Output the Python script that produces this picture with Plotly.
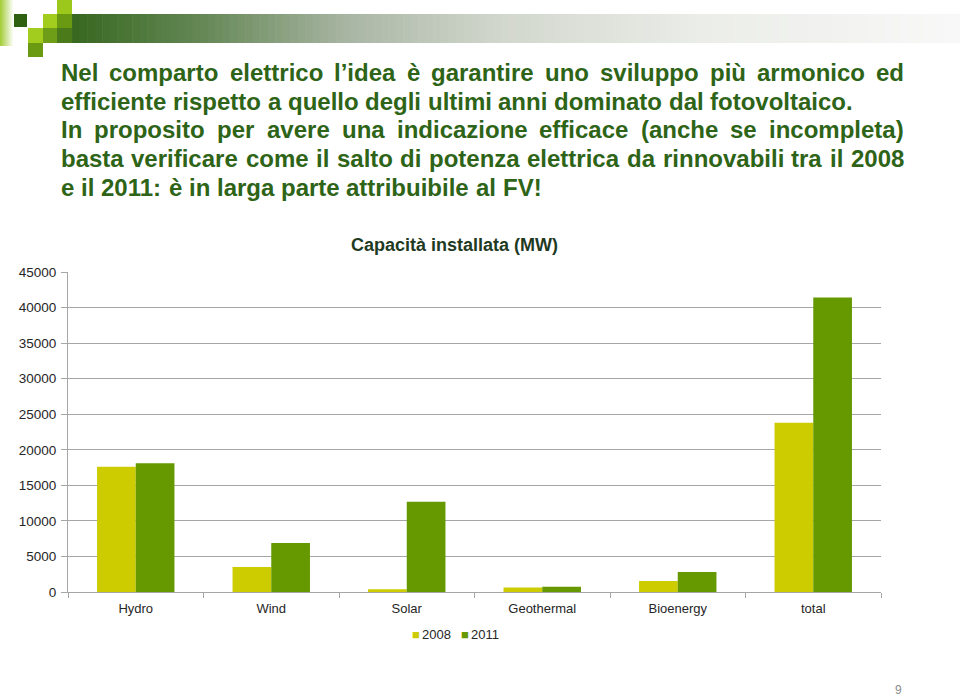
import plotly.graph_objects as go

# ---------------- data ----------------
categories = ["Hydro", "Wind", "Solar", "Geothermal", "Bioenergy", "total"]
series_names = ["2008", "2011"]
cap_2008 = [17600, 3500, 400, 650, 1550, 23800]
cap_2011 = [18100, 6900, 12700, 750, 2800, 41400]
y_ticks = [0, 5000, 10000, 15000, 20000, 25000, 30000, 35000, 40000, 45000]
y_tick_labels = ["0", "5000", "10000", "15000", "20000", "25000", "30000", "35000", "40000", "45000"]

chart_title = "Capacità installata (MW)"
body_lines = [
    ("Nel comparto elettrico l’idea è garantire uno sviluppo più armonico ed", True),
    ("efficiente rispetto a quello degli ultimi anni dominato dal fotovoltaico.", False),
    ("In proposito per avere una indicazione efficace (anche se incompleta)", True),
    ("basta verificare come il salto di potenza elettrica da rinnovabili tra il 2008", True),
    ("e il 2011: è in larga parte attribuibile al FV!", False),
]
page_number = "9"

# ---------------- styling ----------------
W, H = 960, 696
C2008 = "#CCCC00"
C2011 = "#669900"
GRID = "#A6A6A6"
TXT = "#262626"
BODY_COL = "#2E6417"

def px(x):
    return x / W

def py(y):
    return 1 - y / H

# Arial/Helvetica bold advance widths (1/1000 em)
BW = {' ': 278, '!': 333, '(': 333, ')': 333, ',': 278, '.': 278, ':': 333, '’': 278,
      '0': 556, '1': 556, '2': 556, '3': 556, '4': 556, '5': 556, '6': 556, '7': 556, '8': 556, '9': 556,
      'A': 722, 'B': 722, 'C': 722, 'D': 722, 'E': 667, 'F': 611, 'G': 778, 'H': 722, 'I': 278,
      'J': 556, 'K': 722, 'L': 611, 'M': 833, 'N': 722, 'O': 778, 'P': 667, 'Q': 778, 'R': 722,
      'S': 667, 'T': 611, 'U': 722, 'V': 667, 'W': 944, 'X': 667, 'Y': 667, 'Z': 611,
      'a': 556, 'b': 611, 'c': 556, 'd': 611, 'e': 556, 'f': 333, 'g': 611, 'h': 611, 'i': 278,
      'j': 278, 'k': 556, 'l': 278, 'm': 889, 'n': 611, 'o': 611, 'p': 611, 'q': 611, 'r': 389,
      's': 556, 't': 333, 'u': 611, 'v': 556, 'w': 778, 'x': 556, 'y': 556, 'z': 500,
      'è': 556, 'à': 556, 'ù': 611, 'é': 556}

def tw(s, size):
    return sum(BW.get(c, 556) for c in s) * size / 1000.0

fig = go.Figure()
fig.add_trace(go.Bar(x=categories, y=cap_2008, name=series_names[0], marker=dict(color=C2008, line=dict(width=0))))
fig.add_trace(go.Bar(x=categories, y=cap_2011, name=series_names[1], marker=dict(color=C2011, line=dict(width=0))))

shapes = []
# header gradient bar
stops = [(57, (50, 100, 25)), (200, (100, 135, 85)), (350, (170, 182, 165)),
         (500, (210, 215, 205)), (700, (235, 237, 232)), (960, (248, 248, 248))]

def grad_color(x):
    for (x0, c0), (x1, c1) in zip(stops[:-1], stops[1:]):
        if x0 <= x <= x1:
            t = (x - x0) / (x1 - x0)
            return "rgb(%d,%d,%d)" % tuple(round(a + (b - a) * t) for a, b in zip(c0, c1))
    return "rgb(248,248,248)"

n = 120
x0 = 57
step = (960 - x0) / n
for i in range(n):
    xa = x0 + i * step
    shapes.append(dict(type="rect", xref="paper", yref="paper", x0=px(xa), x1=px(xa + step + 0.6),
                       y0=py(43), y1=py(14), fillcolor=grad_color(xa + step / 2), line=dict(width=0), layer="below"))
# left lime fading strip
for i in range(13):
    t = i / 13
    c = tuple(round(a + (255 - a) * t) for a in (165, 205, 60))
    shapes.append(dict(type="rect", xref="paper", yref="paper", x0=px(i), x1=px(i + 1.1),
                       y0=py(46), y1=py(0), fillcolor="rgb(%d,%d,%d)" % c, line=dict(width=0), layer="below"))
# squares
squares = [
    (14, 14, 27, 27, "#2F5F10"),
    (43, 14, 57, 28, "#A2CC1E"),
    (57, 0, 72, 14, "#9CC81C"),
    (57, 14, 72, 28, "#6A9A12"),
    (28, 28, 43, 43, "#A2CC1E"),
    (43, 28, 57, 43, "#6E9E18"),
    (57, 28, 72, 43, "#4A7A1A"),
    (28, 43, 43, 57, "#6A9A12"),
]
for (a, b, c, d, col) in squares:
    shapes.append(dict(type="rect", xref="paper", yref="paper", x0=px(a), x1=px(c),
                       y0=py(d), y1=py(b), fillcolor=col, line=dict(width=0), layer="below"))

annotations = []
# body text (justified lines)
FS = 24
left, right = 60, 903
for i, (line, just) in enumerate(body_lines):
    yc = 72.5 + i * 28.7
    words = line.split()
    widths = [tw(w, FS) for w in words]
    if just and len(words) > 1:
        gap = (right - left - sum(widths)) / (len(words) - 1)
    else:
        gap = tw(" ", FS)
    x = left
    for w, wd in zip(words, widths):
        annotations.append(dict(x=px(x), y=py(yc), xref="paper", yref="paper", text=w, showarrow=False,
                                xanchor="left", yanchor="middle", borderpad=0,
                                font=dict(family="Liberation Sans, Arial", size=FS, color=BODY_COL, weight="bold")))
        x += wd + gap

# chart title
annotations.append(dict(x=px(454), y=py(245), xref="paper", yref="paper", text=chart_title, showarrow=False,
                        xanchor="center", yanchor="middle",
                        font=dict(family="Liberation Sans, Arial", size=18, color="#1F3A1F", weight="bold")))
# legend
leg_items = [(412, C2008, series_names[0]), (461, C2011, series_names[1])]
for xl, col, name in leg_items:
    annotations.append(dict(x=px(xl - 1), y=py(634), xref="paper", yref="paper", text="■", showarrow=False,
                            xanchor="left", yanchor="middle", borderpad=0,
                            font=dict(family="Liberation Sans, Arial", size=13, color=col)))
    annotations.append(dict(x=px(xl + 9), y=py(634), xref="paper", yref="paper", text=name, showarrow=False,
                            xanchor="left", yanchor="middle", borderpad=0,
                            font=dict(family="Liberation Sans, Arial", size=13, color=TXT)))
# page number
annotations.append(dict(x=px(898), y=py(690), xref="paper", yref="paper", text=page_number, showarrow=False,
                        xanchor="center", yanchor="middle",
                        font=dict(family="Liberation Sans, Arial", size=12, color="#8C8C8C")))

fig.update_layout(
    width=W, height=H,
    margin=dict(l=0, r=0, t=0, b=0, autoexpand=False),
    paper_bgcolor="white", plot_bgcolor="white",
    barmode="group", bargap=0.4286, bargroupgap=0,
    showlegend=False,
    font=dict(family="Liberation Sans, Arial", size=13, color=TXT),
    xaxis=dict(domain=[px(68), px(881)], type="category", showgrid=False, showline=True, linecolor=GRID,
               linewidth=1, ticks="outside", tickson="boundaries", ticklen=5, tickcolor=GRID,
               ticklabelstandoff=4, automargin=False, tickfont=dict(size=13, color=TXT)),
    yaxis=dict(domain=[py(592), py(272)], range=[0, 45000], tickvals=y_ticks, ticktext=y_tick_labels,
               showgrid=True, gridcolor=GRID, gridwidth=1, showline=True, linecolor=GRID, linewidth=1,
               ticks="outside", ticklen=6, tickcolor=GRID, zeroline=False, automargin=False,
               ticklabelstandoff=2, tickfont=dict(size=13.5, color=TXT)),
    shapes=shapes,
    annotations=annotations,
)

fig.write_html("out.html", config={"displayModeBar": False},
               post_script="document.body.style.margin='0';document.body.style.overflow='hidden';")
